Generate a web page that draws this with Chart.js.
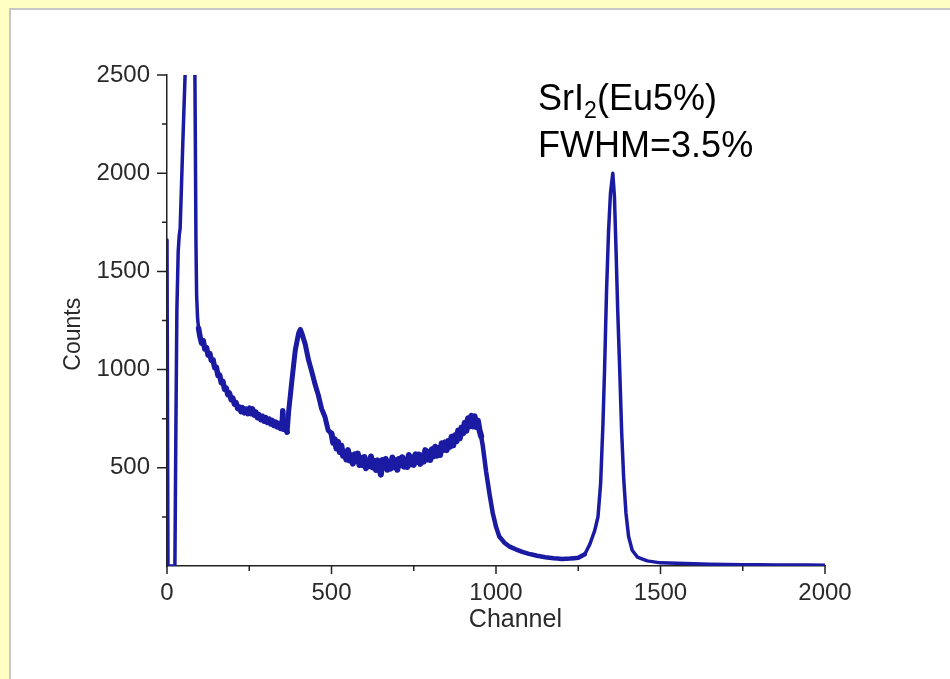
<!DOCTYPE html>
<html>
<head>
<meta charset="utf-8">
<title>SrI2(Eu) spectrum</title>
<script src="https://cdn.jsdelivr.net/npm/chart.js@4/dist/chart.umd.min.js"></script>
<style>
  html, body { margin: 0; padding: 0; }
  body { width: 950px; height: 679px; background: #ffffc4; position: relative; overflow: hidden; }
  #panel { position: absolute; left: 9px; top: 8px; right: 0; bottom: 0; background: #fff;
           border-left: 2px solid #c8c8c8; border-top: 2px solid #c8c8c8; }
  #grafica { position: absolute; left: 0; top: 0; }
</style>
</head>
<body>
<div id="panel"></div>
<canvas id="grafica" width="950" height="679"></canvas>
<script>
// espectro: canal / cuentas
const channel = [
  0, 3, 24, 27, 30, 34, 37, 40, 48, 55, 60, 70, 80, 84, 86, 88, 90, 93, 96,
  100, 105, 110, 115, 120, 125, 130, 135, 140, 145, 150, 155, 160, 165, 170, 175, 180, 185,
  190, 195, 200, 205, 210, 215, 220, 225, 230, 235, 240, 245, 250, 255, 260, 265, 270, 275,
  280, 285, 290, 295, 300, 305, 310, 315, 320, 325, 330, 335, 340, 345, 350, 352, 355, 360,
  365, 370, 380, 390, 400, 405, 410, 420, 430, 440, 450, 460, 470, 480, 490,
  500, 505, 510, 515, 520, 525, 530, 535, 540, 545, 550, 555, 560, 565, 570, 575, 580, 585,
  590, 595, 600, 605, 610, 615, 620, 625, 630, 635, 640, 645, 650, 655, 660, 665, 670, 675,
  680, 685, 690, 695, 700, 705, 710, 715, 720, 725, 730, 735, 740, 745, 750, 755, 760, 765,
  770, 775, 780, 785, 790, 795, 800, 805, 810, 815, 820, 825, 830, 835, 840, 845, 850, 855,
  860, 865, 870, 875, 880, 885, 890, 895, 900, 905, 910, 915, 920, 925, 930, 935, 940, 945,
  950, 955, 960, 970, 980, 990, 1000, 1010, 1025, 1040, 1060,
  1080, 1100, 1125, 1150, 1175, 1200, 1225, 1250, 1270, 1285, 1300, 1310, 1318, 1325,
  1330, 1336, 1342, 1348, 1355, 1360, 1365, 1370, 1376, 1382, 1388, 1395, 1403, 1414,
  1430, 1460, 1500, 1600, 1700, 1800, 1900, 2000
];
const counts = [
  1660, 0, 0, 700, 1300, 1600, 1680, 1720, 2150, 2500, 2800, 3200, 3000, 2700, 2200, 1650, 1380, 1260, 1210,
  1170, 1135, 1148, 1105, 1112, 1074, 1082, 1046, 1050, 1010, 1012, 970, 972, 933, 940, 900, 906, 872,
  880, 847, 855, 824, 832, 801, 810, 786, 806, 779, 800, 775, 805, 775, 800, 768, 784, 755,
  771, 745, 763, 738, 756, 730, 749, 723, 741, 715, 733, 708, 726, 700, 716, 790, 696, 708,
  682, 790, 950, 1100, 1185, 1205, 1185, 1130, 1050, 990, 925, 870, 800, 760, 690,
  675, 628, 646, 599, 632, 580, 613, 561, 579, 542, 590, 537, 564, 521, 568, 535, 572, 514,
  551, 513, 555, 498, 537, 510, 558, 502, 535, 489, 538, 506, 465, 540, 500, 545, 490, 530,
  496, 552, 503, 539, 490, 546, 513, 554, 506, 542, 504, 565, 517, 553, 515, 568, 530, 568,
  520, 563, 531, 590, 543, 582, 540, 594, 558, 607, 561, 600, 565, 625, 590, 630, 590, 636,
  607, 658, 614, 665, 635, 690, 650, 705, 675, 729, 688, 752, 711, 765, 710, 762, 708, 740,
  690, 660, 610, 480, 370, 270, 200, 150, 120, 100, 85,
  72, 62, 52, 45, 40, 36, 38, 42, 60, 110, 180, 250, 420, 720,
  1000, 1400, 1700, 1900, 2000, 1880, 1600, 1300, 1000, 680, 450, 270, 150, 80,
  45, 26, 16, 11, 8, 6, 5, 4
];

const xTicks = [0, 500, 1000, 1500, 2000];
const xMinor = [250, 750, 1250, 1750];
const yTicks = [500, 1000, 1500, 2000, 2500];
const yMinor = [250, 750, 1250, 1750, 2250];

const fuente = '"Liberation Sans", Arial, sans-serif';
const azul = '#1a1aa2';

// grosor del trazo: mas grueso donde el espectro es ruidoso
function grosor(s) {
  const a = s.p0.parsed.x, b = s.p1.parsed.x;
  if (a >= 96 && b <= 365) return 5.5;
  if (a >= 365 && b <= 500) return 5;
  if (a >= 495 && b <= 955) return 6;
  if (a >= 955 && b <= 1270) return 4.5;
  return 3.5;
}

// marcas de los ejes, titulos y etiqueta del cristal
const extras = {
  id: 'extras',
  afterDraw(chart) {
    const ctx = chart.ctx;
    const x = chart.scales.x, y = chart.scales.y;
    ctx.save();
    ctx.strokeStyle = '#222';
    ctx.lineWidth = 1.5;
    ctx.beginPath();
    xTicks.forEach(v => { const p = x.getPixelForValue(v); ctx.moveTo(p, x.top); ctx.lineTo(p, x.top + 8); });
    xMinor.forEach(v => { const p = x.getPixelForValue(v); ctx.moveTo(p, x.top); ctx.lineTo(p, x.top + 5); });
    yTicks.forEach(v => { const p = y.getPixelForValue(v); ctx.moveTo(y.right, p); ctx.lineTo(y.right - 10, p); });
    yMinor.forEach(v => { const p = y.getPixelForValue(v); ctx.moveTo(y.right, p); ctx.lineTo(y.right - 5, p); });
    ctx.stroke();

    ctx.fillStyle = '#2a2a2a';
    ctx.textAlign = 'center';
    ctx.textBaseline = 'middle';
    ctx.font = '25px ' + fuente;
    ctx.fillText('Channel', x.getPixelForValue(1059), 620);
    ctx.save();
    ctx.translate(74, y.getPixelForValue(1180));
    ctx.rotate(-Math.PI / 2);
    ctx.font = '23px ' + fuente;
    ctx.fillText('Counts', 0, 0);
    ctx.restore();

    // SrI2(Eu5%) / FWHM
    ctx.fillStyle = '#000';
    ctx.textAlign = 'left';
    ctx.textBaseline = 'alphabetic';
    let px = x.getPixelForValue(1128);
    const b1 = y.getPixelForValue(2320);
    ctx.font = '36px ' + fuente;
    ctx.fillText('SrI', px, b1);
    px += ctx.measureText('SrI').width;
    ctx.font = '23px ' + fuente;
    ctx.fillText('2', px, b1 + 8);
    px += ctx.measureText('2').width;
    ctx.font = '36px ' + fuente;
    ctx.fillText('(Eu5%)', px, b1);
    ctx.fillText('FWHM=3.5%', x.getPixelForValue(1128), y.getPixelForValue(2082));
    ctx.restore();
  }
};

new Chart(document.getElementById('grafica'), {
  type: 'line',
  data: {
    datasets: [{
      data: channel.map((c, i) => ({ x: c, y: counts[i] })),
      borderColor: azul,
      borderWidth: 3.5,
      borderJoinStyle: 'round',
      borderCapStyle: 'round',
      pointRadius: 0,
      tension: 0.001,
      segment: { borderWidth: grosor }
    }]
  },
  options: {
    responsive: false,
    animation: false,
    devicePixelRatio: 1,
    layout: { padding: { top: 75, right: 125, left: 0, bottom: 0 } },
    plugins: { legend: { display: false }, tooltip: { enabled: false } },
    scales: {
      x: {
        type: 'linear', min: 0, max: 2000,
        afterBuildTicks: s => { s.ticks = xTicks.map(v => ({ value: v })); },
        afterFit: s => { s.height = 113; },
        grid: { drawOnChartArea: false, drawTicks: true, tickLength: 8, tickColor: 'rgba(0,0,0,0)' },
        border: { color: '#222', width: 1.5 },
        ticks: { padding: 5, color: '#2a2a2a', maxRotation: 0, autoSkip: false,
                 font: { family: fuente, size: 24 }, callback: v => String(v) }
      },
      y: {
        type: 'linear', min: 0, max: 2500,
        afterBuildTicks: s => { s.ticks = yTicks.map(v => ({ value: v })); },
        afterFit: s => { s.width = 167; },
        grid: { drawOnChartArea: false, drawTicks: true, tickLength: 10, tickColor: 'rgba(0,0,0,0)' },
        border: { color: '#222', width: 1.5 },
        ticks: { padding: 7, color: '#2a2a2a', autoSkip: false,
                 font: { family: fuente, size: 24 }, callback: v => String(v) }
      }
    }
  },
  plugins: [extras]
});
</script>
</body>
</html>
